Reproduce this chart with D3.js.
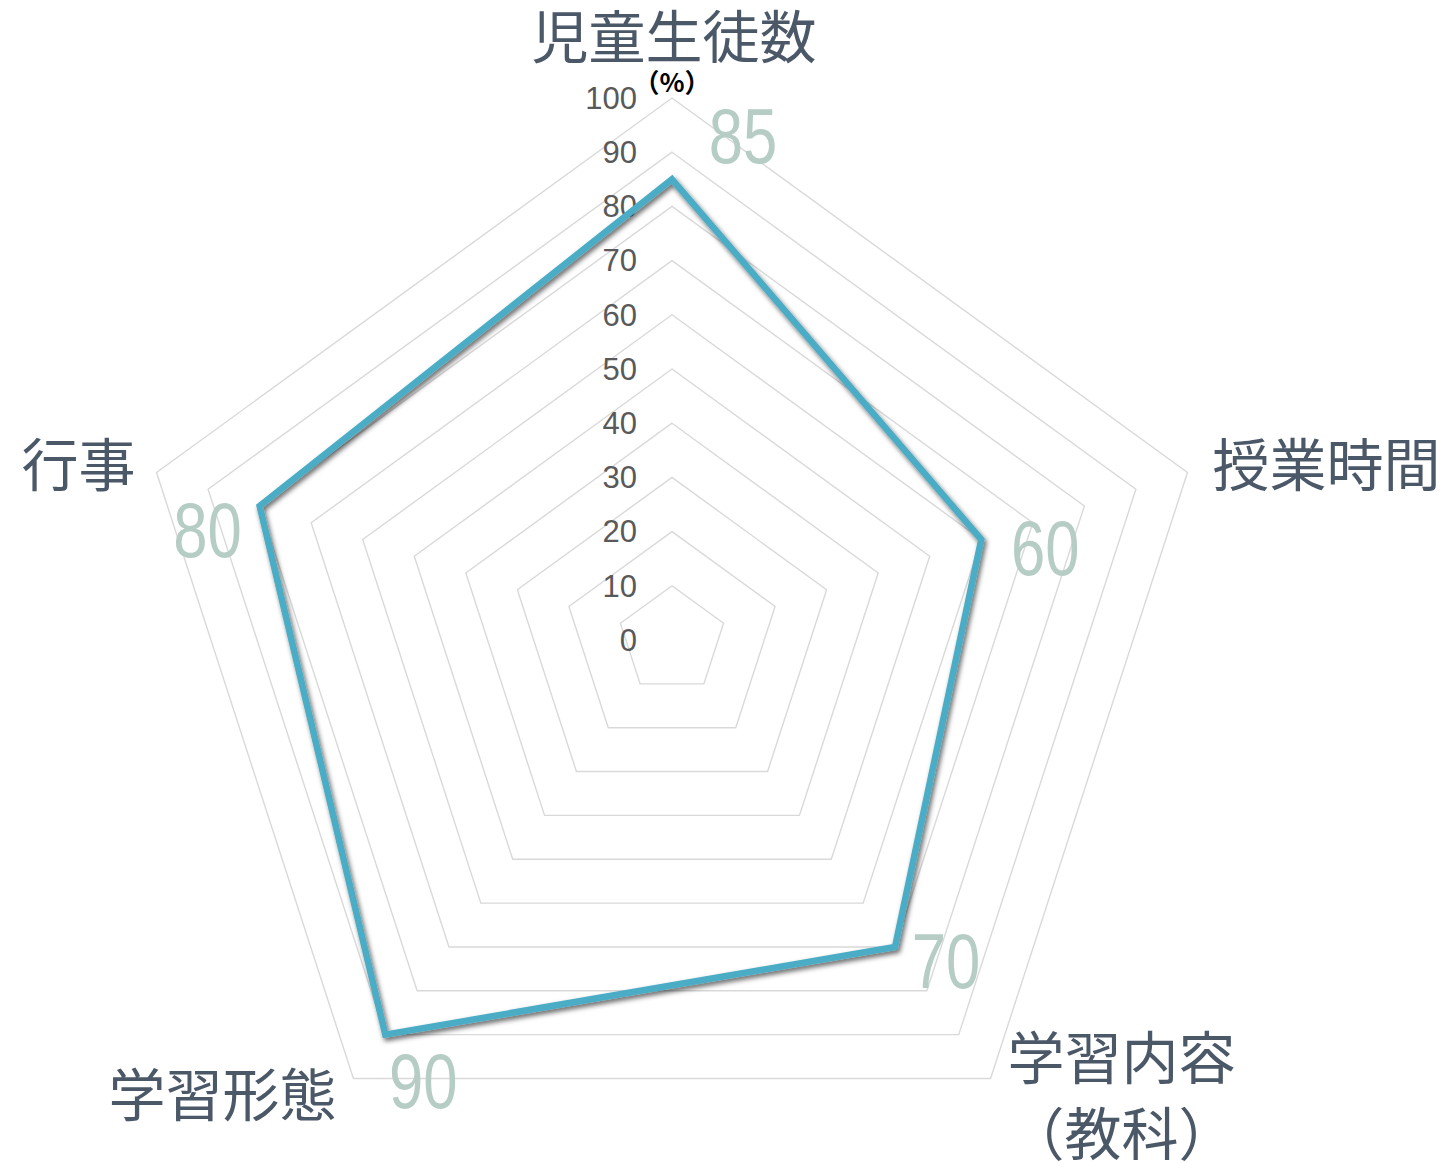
<!DOCTYPE html>
<html><head><meta charset="utf-8">
<script src="https://cdn.jsdelivr.net/npm/d3@7"></script>
<style>
html,body{margin:0;padding:0;background:#fff;}
svg{display:block;}
</style></head>
<body>
<svg id="chart" width="1448" height="1163"></svg>
<script>
// ---- data ----
const categories = ["児童生徒数", "授業時間", "学習内容\n（教科）", "学習形態", "行事"];
const values = [85, 60, 70, 90, 80];
const tickValues = [0, 10, 20, 30, 40, 50, 60, 70, 80, 90, 100];
const unitLabel = "（%）";

// ---- layout / style ----
const W = 1448, H = 1163;
const cx = 672, cy = 640, R = 542;
const lineColor = "#4bacc6";
const gridColor = "#d9d9d9";
const catColor = "#4b5868";
const valColor = "#b5cdc4";
const tickColor = "#595959";
// label offsets (style only)
const valOffsets = [[71,-16],[64,35],[51,41],[38,73],[-52,51]];
const catOffsets = [[2,-60,"middle"],[25,-6,"start"],[131,-19,"middle"],[-131,18,"middle"],[-78,-6,"middle"]];

const svg = d3.select("#chart");
const defs = svg.append("defs");
const f = defs.append("filter").attr("id","shadow").attr("x","-20%").attr("y","-20%").attr("width","140%").attr("height","140%");
f.append("feDropShadow").attr("dx",2).attr("dy",3).attr("stdDeviation",2.4).attr("flood-color","#000").attr("flood-opacity",0.6);

const g = svg.append("g").attr("transform", `translate(${cx},${cy})`);
const r = d3.scaleLinear().domain([0, 100]).range([0, R]);
const n = categories.length;
const angle = d3.scaleLinear().domain([0, n]).range([0, 2 * Math.PI]);
const pt = (i, v) => [Math.sin(angle(i)) * r(v), -Math.cos(angle(i)) * r(v)];

// grid rings
const ring = d3.lineRadial().angle((d, i) => angle(i)).radius(d => r(d)).curve(d3.curveLinearClosed);
tickValues.filter(t => t > 0).forEach(t => {
  g.append("path").attr("d", ring(d3.range(n).map(() => t)))
    .attr("fill", "none").attr("stroke", gridColor).attr("stroke-width", 1.4);
});

// tick labels
g.selectAll("text.tick").data(tickValues).join("text")
  .attr("class","tick")
  .attr("x", -35).attr("y", d => -r(d))
  .attr("dy","0.35em")
  .attr("text-anchor","end")
  .attr("font-family","Liberation Sans, Arial, sans-serif")
  .attr("font-size", 31)
  .attr("fill", tickColor)
  .text(d => d);

// unit label
g.append("text").attr("x", 0).attr("y", -r(100) - 6)
  .attr("text-anchor","middle")
  .attr("font-family","Noto Sans CJK JP, sans-serif")
  .attr("font-size", 26).attr("font-weight","bold").attr("fill","#000")
  .text(unitLabel);

// data line
const line = d3.lineRadial().angle((d, i) => angle(i)).radius(d => r(d)).curve(d3.curveLinearClosed);
g.append("path").attr("d", line(values))
  .attr("fill","none").attr("stroke", lineColor).attr("stroke-width", 6.5)
  .attr("stroke-linejoin","miter").attr("filter","url(#shadow)");

// value labels (condensed)
values.forEach((v, i) => {
  const [x, y] = pt(i, v);
  g.append("text")
    .attr("transform", `translate(${x + valOffsets[i][0]},${y + valOffsets[i][1]}) scale(0.8,1)`)
    .attr("text-anchor","middle")
    .attr("font-family","Liberation Sans, Arial, sans-serif")
    .attr("font-size", 77)
    .attr("fill", valColor)
    .text(v);
});

// category labels
categories.forEach((c, i) => {
  const [x, y] = pt(i, 100);
  const lines = c.split("\n");
  const t = g.append("text")
    .attr("text-anchor", catOffsets[i][2])
    .attr("font-family","Noto Sans CJK JP, sans-serif")
    .attr("font-size", 57)
    .attr("fill", catColor);
  lines.forEach((l, k) => {
    t.append("tspan").attr("x", x + catOffsets[i][0])
      .attr("y", y + catOffsets[i][1] + k * 76)
      .attr("dy","0.35em").text(l);
  });
});
</script>
</body></html>
